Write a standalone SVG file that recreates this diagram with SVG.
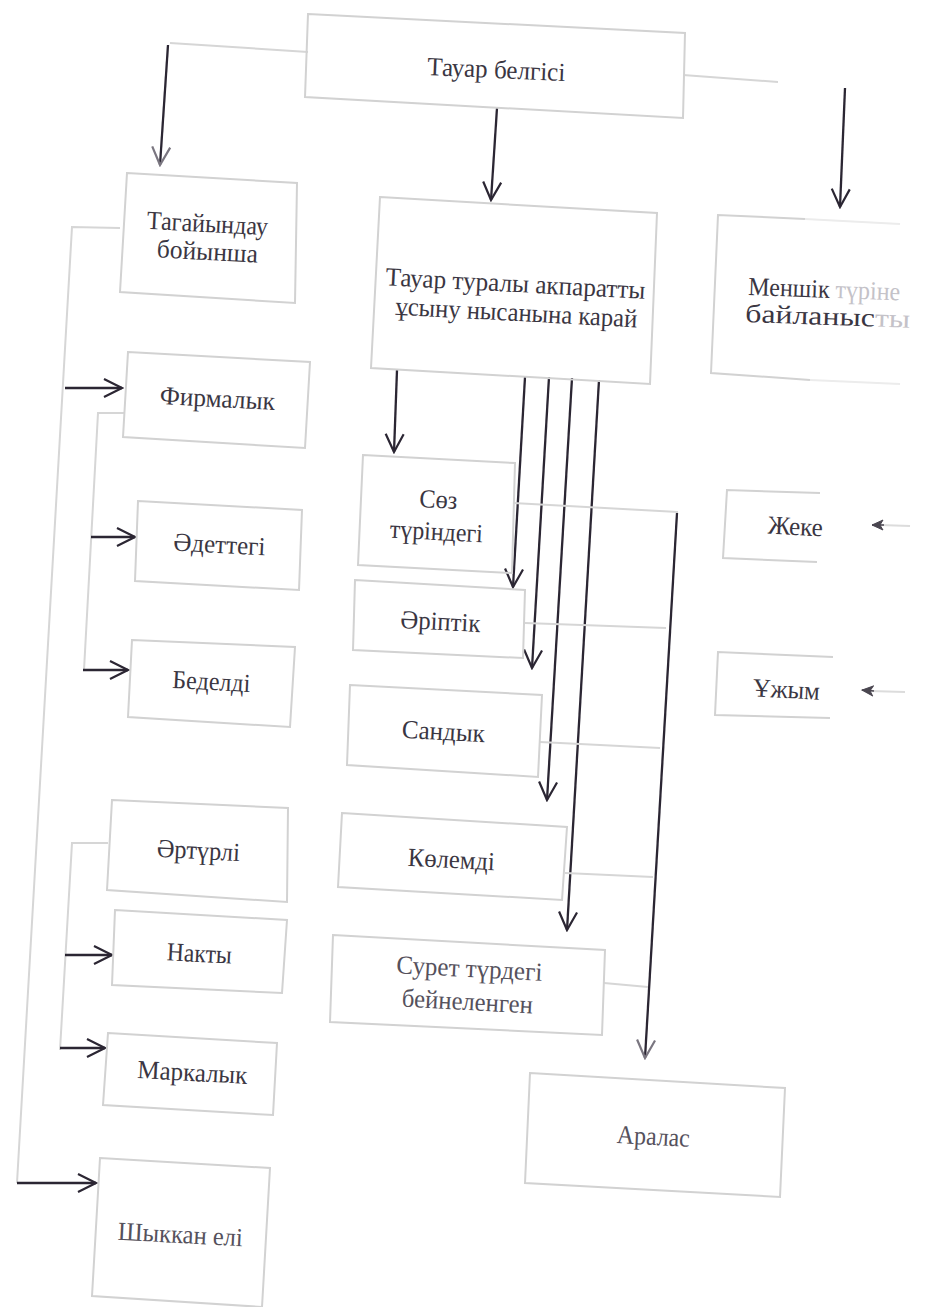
<svg xmlns="http://www.w3.org/2000/svg" width="928" height="1307" viewBox="0 0 928 1307">
<style>
.bx{fill:none;stroke:#d2d2d2;stroke-width:2}
.fl{fill:none;stroke:#d6d6d6;stroke-width:2}
.ar{fill:none;stroke:#2b2633;stroke-width:2.3;marker-end:url(#ah)}
.arg{fill:none;stroke:#2b2633;stroke-width:2.3;marker-end:url(#ahg)}
.t{font-family:"Liberation Serif","Times New Roman",serif;font-size:26px;fill:#3a3642;text-anchor:middle}
.tl{fill:#55515c}
.fd{fill:#c4c2c8}
</style>
<defs>
<marker id="ah" viewBox="-20 -11 22 22" markerWidth="22" markerHeight="22" refX="0" refY="0" orient="auto" markerUnits="userSpaceOnUse"><path d="M-18,-9 L0,0 L-18,9" fill="none" stroke="#2b2633" stroke-width="2.2"/></marker>
<marker id="ahg" viewBox="-20 -11 22 22" markerWidth="22" markerHeight="22" refX="0" refY="0" orient="auto" markerUnits="userSpaceOnUse"><path d="M-18,-9 L0,0 L-18,9" fill="none" stroke="#7a7680" stroke-width="2.2"/></marker>
<marker id="ahs" viewBox="-12 -7 14 14" markerWidth="14" markerHeight="14" refX="0" refY="0" orient="auto" markerUnits="userSpaceOnUse"><path d="M-11,-5 L0,0 L-11,5 L-8,0 z" fill="#4a4650" stroke="#4a4650" stroke-width="1"/></marker>
</defs>

<g id="connectors">
<path class="fl" d="M170,43 L308,52"/>
<path class="fl" d="M683,75 L778,82"/>
<path class="arg" d="M168,45 L160,165"/>
<path class="ar" d="M497,108 L491,200"/>
<path class="ar" d="M845,88 L840,207"/>
<path class="fl" d="M120,228 L72,227 L17,1183"/>
<path class="ar" d="M65,388 L122,388"/>
<path class="ar" d="M17,1183 L96,1183"/>
<path class="fl" d="M125,413 L98,413 L84,670"/>
<path class="ar" d="M91,537 L135,537"/>
<path class="ar" d="M83,670 L128,670"/>
<path class="fl" d="M108,843 L72,843 L60,1050"/>
<path class="ar" d="M65,955 L112,955"/>
<path class="ar" d="M60,1048 L105,1048"/>
<path class="ar" d="M397,370 L394,452"/>
<path class="ar" d="M525,377 L513,587"/>
<path class="ar" d="M549,377 L532,668"/>
<path class="ar" d="M572,378 L547,800"/>
<path class="ar" d="M599,380 L567,930"/>
<path class="arg" d="M677,513 L645,1058"/>
<path class="fl" d="M513,503 L678,512"/>
<path class="fl" d="M525,623 L666,628"/>
<path class="fl" d="M540,742 L660,748"/>
<path class="fl" d="M565,873 L653,877"/>
<path class="fl" d="M604,983 L648,987"/>
<path fill="none" stroke="#dcdcdc" stroke-width="2" d="M910,526 L880,525"/>
<path fill="none" stroke="#4a4650" stroke-width="1.5" marker-end="url(#ahs)" d="M884,525 L872,525"/>
<path fill="none" stroke="#dcdcdc" stroke-width="2" d="M905,692 L870,691"/>
<path fill="none" stroke="#4a4650" stroke-width="1.5" marker-end="url(#ahs)" d="M874,691 L862,690"/>
</g>

<g id="n-tauar-belgisi">
<polygon class="bx" points="308,14 685,33 683,118 305,97"/>
<text class="t" x="496" y="78" textLength="138" lengthAdjust="spacingAndGlyphs" transform="rotate(2.5 496 78)">Тауар белгісі</text>
</g>

<g id="n-tagaiyndau">
<polygon class="bx" points="127,173 297,183 295,303 120,292"/>
<text class="t" x="207" y="232" textLength="121" lengthAdjust="spacingAndGlyphs" transform="rotate(3 207 232)">Тагайындау</text>
<text class="t" x="207" y="260" textLength="101" lengthAdjust="spacingAndGlyphs" transform="rotate(3 207 260)">бойынша</text>
</g>

<g id="n-tauar-turaly">
<polygon class="bx" points="380,197 657,213 650,384 371,368"/>
<text class="t" x="515" y="292" textLength="260" lengthAdjust="spacingAndGlyphs" transform="rotate(3 515 292)">Тауар туралы акпаратты</text>
<text class="t" x="516" y="321" textLength="242" lengthAdjust="spacingAndGlyphs" transform="rotate(3 516 321)">ұсыну нысанына карай</text>
</g>

<g id="n-menshik">
<path class="bx" d="M805,219 L718,215 L711,373 L810,380"/>
<path fill="none" stroke="#ececec" stroke-width="2" d="M805,219 L900,224 M810,380 L900,384"/>
<text class="t" x="748" y="295" textLength="152" lengthAdjust="spacingAndGlyphs" style="text-anchor:start" transform="rotate(2 748 295)">Меншік <tspan class="fd">түріне</tspan></text>
<text class="t" x="745" y="322" textLength="165" lengthAdjust="spacingAndGlyphs" style="text-anchor:start" transform="rotate(2 745 322)">байланыс<tspan class="fd">ты</tspan></text>
</g>

<g id="n-firmalyk">
<polygon class="bx" points="128,352 310,362 305,448 123,437"/>
<text class="t" x="217" y="407" textLength="115" lengthAdjust="spacingAndGlyphs" transform="rotate(3 217 407)">Фирмалык</text>
</g>

<g id="n-adettegi">
<polygon class="bx" points="138,501 302,510 299,590 135,581"/>
<text class="t" x="219" y="553" textLength="92" lengthAdjust="spacingAndGlyphs" transform="rotate(3 219 553)">Әдеттегі</text>
</g>

<g id="n-bedeldi">
<polygon class="bx" points="132,640 295,647 290,727 128,717"/>
<text class="t" x="211" y="690" textLength="78" lengthAdjust="spacingAndGlyphs" transform="rotate(3 211 690)">Беделді</text>
</g>

<g id="n-arturli">
<polygon class="bx" points="112,800 288,808 287,902 107,890"/>
<text class="t" x="198" y="859" textLength="83" lengthAdjust="spacingAndGlyphs" transform="rotate(3 198 859)">Әртүрлі</text>
</g>

<g id="n-nakty">
<polygon class="bx" points="115,910 287,920 282,993 112,985"/>
<text class="t" x="199" y="962" textLength="65" lengthAdjust="spacingAndGlyphs" transform="rotate(3 199 962)">Накты</text>
</g>

<g id="n-markalyk">
<polygon class="bx" points="108,1033 277,1043 273,1115 103,1105"/>
<text class="t" x="192" y="1081" textLength="110" lengthAdjust="spacingAndGlyphs" transform="rotate(3 192 1081)">Маркалык</text>
</g>

<g id="n-shykkan">
<polygon class="bx" points="100,1158 270,1168 262,1307 92,1296"/>
<text class="t tl" x="180" y="1243" textLength="125" lengthAdjust="spacingAndGlyphs" transform="rotate(3 180 1243)">Шыккан елі</text>
</g>

<g id="n-soz">
<polygon class="bx" points="363,455 515,463 512,573 358,565"/>
<text class="t" x="438" y="508" textLength="38" lengthAdjust="spacingAndGlyphs" transform="rotate(3 438 508)">Сөз</text>
<text class="t" x="436" y="540" textLength="93" lengthAdjust="spacingAndGlyphs" transform="rotate(3 436 540)">түріндегі</text>
</g>

<g id="n-ariptik">
<polygon class="bx" points="355,580 525,590 523,658 353,650"/>
<text class="t" x="440" y="630" textLength="80" lengthAdjust="spacingAndGlyphs" transform="rotate(3 440 630)">Әріптік</text>
</g>

<g id="n-sandyk">
<polygon class="bx" points="350,685 542,695 538,777 347,765"/>
<text class="t" x="443" y="740" textLength="83" lengthAdjust="spacingAndGlyphs" transform="rotate(3 443 740)">Сандык</text>
</g>

<g id="n-kolemdi">
<polygon class="bx" points="342,813 567,827 562,900 338,887"/>
<text class="t" x="451" y="868" textLength="87" lengthAdjust="spacingAndGlyphs" transform="rotate(3 451 868)">Көлемді</text>
</g>

<g id="n-suret">
<polygon class="bx" points="333,935 605,950 602,1035 330,1022"/>
<text class="t tl" x="469" y="977" textLength="146" lengthAdjust="spacingAndGlyphs" transform="rotate(3 469 977)">Сурет түрдегі</text>
<text class="t tl" x="467" y="1010" textLength="131" lengthAdjust="spacingAndGlyphs" transform="rotate(3 467 1010)">бейнеленген</text>
</g>

<g id="n-aralas">
<polygon class="bx" points="530,1073 785,1088 780,1197 525,1183"/>
<text class="t tl" x="653" y="1145" textLength="73" lengthAdjust="spacingAndGlyphs" transform="rotate(3 653 1145)">Аралас</text>
</g>

<g id="n-zheke">
<path class="bx" d="M820,493 L727,490 L723,558 L817,562"/>
<text class="t" x="795" y="535" textLength="55" lengthAdjust="spacingAndGlyphs" transform="rotate(3 795 535)">Жеке</text>
</g>

<g id="n-uzhym">
<path class="bx" d="M833,657 L718,652 L715,715 L830,718"/>
<text class="t" x="786" y="698" textLength="67" lengthAdjust="spacingAndGlyphs" transform="rotate(3 786 698)">Ұжым</text>
</g>
</svg>
